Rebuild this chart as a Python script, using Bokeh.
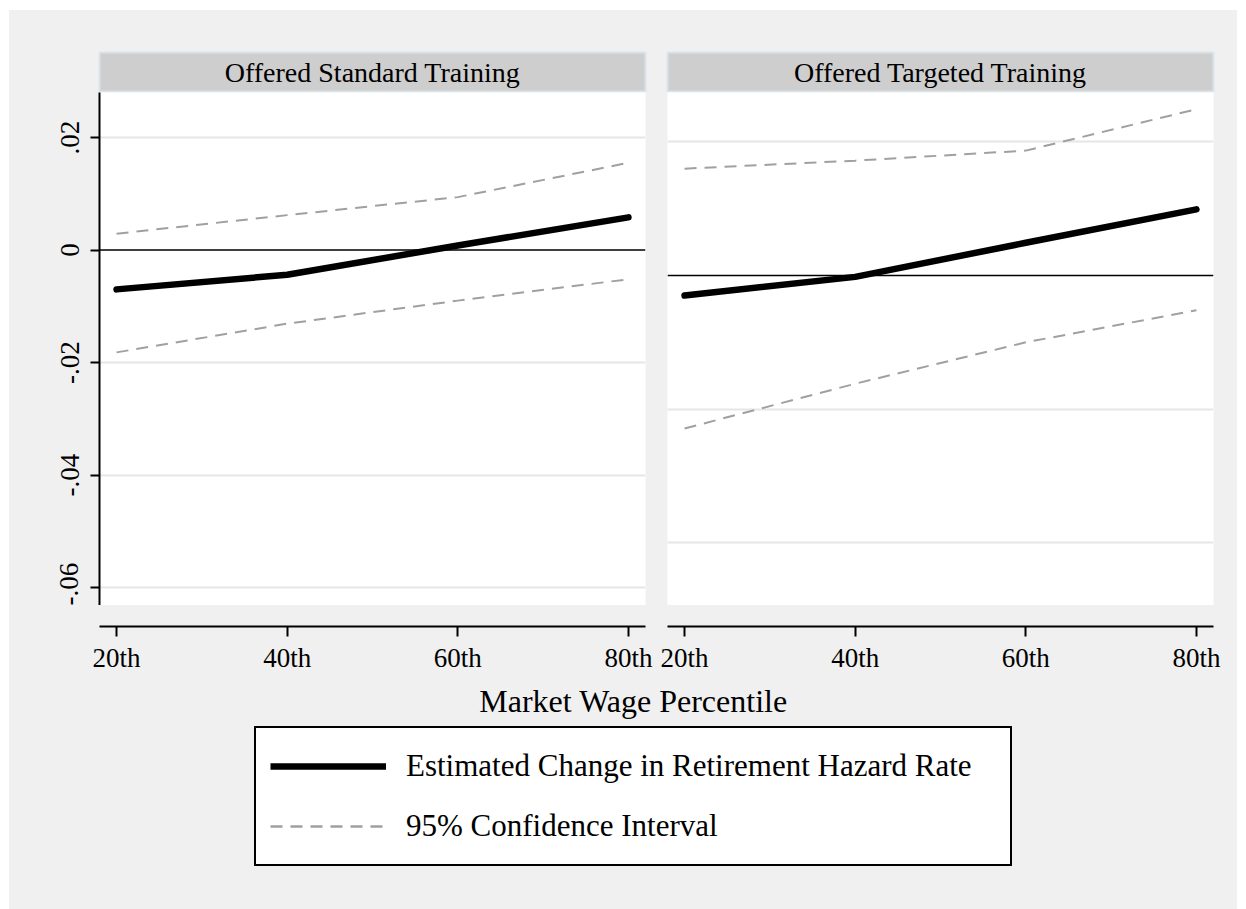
import math
from bokeh.plotting import figure
from bokeh.models import (Range1d, FixedTicker, Span, Grid, Label, Legend,
                          LegendItem, Column, Row)
from bokeh.embed import file_html
from bokeh.resources import INLINE

# ---------------- data ----------------
pct = [20, 40, 60, 80]
x_tick_labels = ["20th", "40th", "60th", "80th"]

std_est = [-0.0070, -0.0044, 0.0008, 0.0058]
std_hi = [0.0029, 0.0062, 0.0094, 0.0155]
std_lo = [-0.0182, -0.0131, -0.0090, -0.0052]

tgt_est = [-0.0030, -0.0002, 0.0049, 0.0099]
tgt_hi = [0.0160, 0.0172, 0.0187, 0.0249]
tgt_lo = [-0.0229, -0.0162, -0.0100, -0.0052]

panel_titles = ["Offered Standard Training", "Offered Targeted Training"]
y_ticks = [0.02, 0, -0.02, -0.04, -0.06]
y_tick_labels = [".02", "0", "-.02", "-.04", "-.06"]
right_grid = [0.02, -0.02, -0.04]
legend_labels = ["Estimated Change in Retirement Hazard Rate",
                 "95% Confidence Interval"]
x_title = "Market Wage Percentile"

# ---------------- style ----------------
FONT = "Liberation Serif"
BG = "#f0f0f0"
GRID = "#e6e6e6"
CI_COLOR = "#a0a0a0"
CI_DASH = "12 8"
FRAME_W = 546
XR = (18, 82)
NAN = float("nan")


def base_fig(w, h, left, right, top, bottom, x_range, y_range,
             xloc=None, yloc=None):
    p = figure(width=w, height=h, x_range=x_range, y_range=y_range,
               x_axis_location=xloc, y_axis_location=yloc,
               toolbar_location=None, output_backend="svg",
               min_border_left=left, min_border_right=right,
               min_border_top=top, min_border_bottom=bottom)
    p.border_fill_color = BG
    p.outline_line_color = None
    p.grid.visible = False
    return p


def strip(title, left, right):
    s = base_fig(left + FRAME_W + right, 82, left, right, 42, 0,
                 Range1d(0, 1), Range1d(0, 1))
    s.background_fill_color = "#cecece"
    s.outline_line_color = "#d8e4ea"
    s.outline_line_width = 2
    s.add_layout(Label(x=0.5, y=0.5, text=title, text_align="center",
                       text_baseline="middle", text_font=FONT,
                       text_font_size="28px", text_color="black"))
    return s


def panel(est, hi, lo, yr, grid_ticks, left, right, with_axis):
    p = base_fig(left + FRAME_W + right, 513, left, right, 0, 0,
                 Range1d(*XR), Range1d(*yr),
                 yloc="left" if with_axis else None)
    p.background_fill_color = "white"
    g = Grid(dimension=1, ticker=FixedTicker(ticks=grid_ticks),
             grid_line_color=GRID, grid_line_width=2)
    p.add_layout(g, "center")
    p.add_layout(Span(location=0, dimension="width", line_color="black",
                      line_width=1.5))
    p.line(pct, hi, line_color=CI_COLOR, line_width=2, line_dash=CI_DASH)
    p.line(pct, lo, line_color=CI_COLOR, line_width=2, line_dash=CI_DASH)
    p.line(pct, est, line_color="black", line_width=6.5, line_cap="round",
           line_join="round")
    if with_axis:
        ax = p.yaxis[0]
        ax.ticker = FixedTicker(ticks=y_ticks)
        ax.major_label_overrides = {t: l for t, l in zip(y_ticks, y_tick_labels)}
        ax.major_label_orientation = "parallel"
        ax.major_label_text_font = FONT
        ax.major_label_text_font_size = "27px"
        ax.major_label_text_color = "black"
        ax.major_label_standoff = 12
        ax.axis_line_width = 2
        ax.axis_line_color = "black"
        ax.major_tick_out = 9
        ax.major_tick_in = 0
        ax.major_tick_line_width = 2
        ax.minor_tick_out = 0
        ax.minor_tick_in = 0
    return p


def xaxis_fig(left, right):
    a = base_fig(left + FRAME_W + right, 75, left, right, 0, 54,
                 Range1d(*XR), Range1d(0, 1), xloc="below")
    a.background_fill_color = BG
    ax = a.xaxis[0]
    ax.ticker = FixedTicker(ticks=pct)
    ax.major_label_overrides = {t: l for t, l in zip(pct, x_tick_labels)}
    ax.major_label_text_font = FONT
    ax.major_label_text_font_size = "27px"
    ax.major_label_text_color = "black"
    ax.major_label_standoff = 6
    ax.axis_line_width = 2
    ax.axis_line_color = "black"
    ax.major_tick_out = 10
    ax.major_tick_in = 0
    ax.major_tick_line_width = 2
    ax.minor_tick_out = 0
    ax.minor_tick_in = 0
    return a


L_LEFT, L_RIGHT = 90, 11
R_LEFT, R_RIGHT = 11, 24

s1 = strip(panel_titles[0], L_LEFT, L_RIGHT)
s2 = strip(panel_titles[1], R_LEFT, R_RIGHT)
p1 = panel(std_est, std_hi, std_lo, (-0.0632, 0.0280),
           [0.02, -0.02, -0.04, -0.06], L_LEFT, L_RIGHT, True)
p2 = panel(tgt_est, tgt_hi, tgt_lo, (-0.0494, 0.0274),
           right_grid, R_LEFT, R_RIGHT, False)
a1 = xaxis_fig(L_LEFT, L_RIGHT)
a2 = xaxis_fig(R_LEFT, R_RIGHT)

TOTAL_W = L_LEFT + FRAME_W + L_RIGHT + R_LEFT + FRAME_W + R_RIGHT
BOT_H = 229
pb = base_fig(TOTAL_W, BOT_H, 0, 0, 0, 0,
              Range1d(0, TOTAL_W), Range1d(0, BOT_H))
pb.background_fill_color = BG
pb.add_layout(Label(x=624, y=BOT_H - 20, text=x_title, text_align="center",
                    text_baseline="middle", text_font=FONT,
                    text_font_size="32px", text_color="black"))
# legend-only renderers (a single missing point: nothing is drawn)
r_est = pb.line(x=[NAN], y=[NAN], line_color="black", line_width=6.5)
r_ci = pb.line(x=[NAN], y=[NAN], line_color=CI_COLOR, line_width=2.5,
               line_dash=CI_DASH)
leg = Legend(items=[LegendItem(label=legend_labels[0], renderers=[r_est]),
                    LegendItem(label=legend_labels[1], renderers=[r_ci])],
             location=(245, 43), margin=0, padding=14, spacing=12,
             glyph_width=116, glyph_height=48, label_height=48,
             label_width=590, label_standoff=20,
             label_text_font=FONT, label_text_font_size="31px",
             label_text_color="black", border_line_color="black",
             border_line_width=2, border_line_alpha=1.0,
             background_fill_color="white", background_fill_alpha=1.0)
pb.add_layout(leg, "center")

left_col = Column(children=[s1, p1, a1], spacing=0)
right_col = Column(children=[s2, p2, a2], spacing=0)
top_row = Row(children=[left_col, right_col], spacing=0)
root = Column(children=[top_row, pb], spacing=0, margin=(10, 0, 0, 9),
              styles={"background-color": BG})

open("out.html", "w").write(file_html(root, INLINE))
